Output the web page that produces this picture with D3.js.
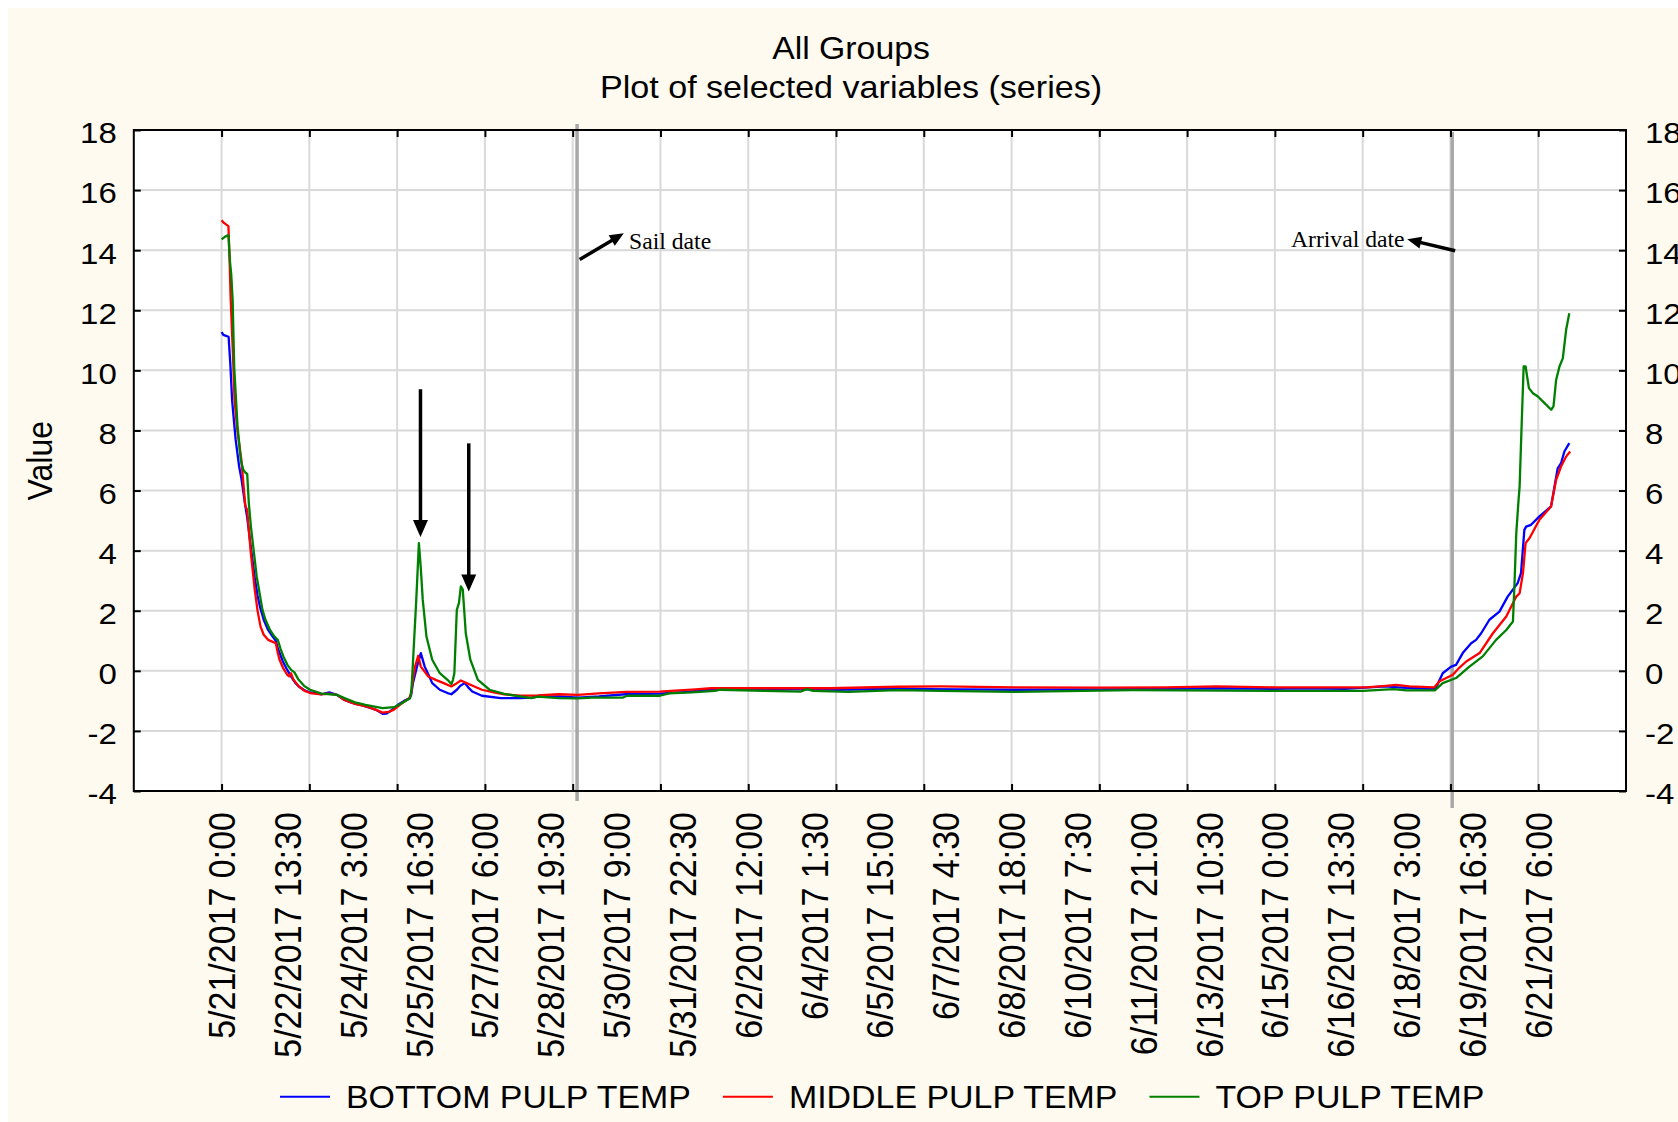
<!DOCTYPE html>
<html>
<head>
<meta charset="utf-8">
<script src="https://d3js.org/d3.v7.min.js"></script>
<style>
  body { margin: 0; background: #fff; }
  svg { display: block; }
  text { font-family: 'Liberation Sans', Arial, sans-serif; fill: #000; }
</style>
</head>
<body>
<svg width="1678" height="1122"></svg>
<script>

// readings are [hours after 5/21/2017 0:00, temperature]

var startLabel = '5/21/2017 0:00';

var seriesNames = ['BOTTOM PULP TEMP', 'MIDDLE PULP TEMP', 'TOP PULP TEMP'];
var seriesColors = ['#0000ff', '#ff0000', '#008000'];

var bottomPulp = [
    [0, 11.27], [1, 11.18], [2.5, 11.15], [4, 11.12], [5, 10.2], [6, 9.0], [8, 7.7], [10, 6.8],
    [11.3, 6.4], [13.5, 5.5], [14.6, 5.1], [16.7, 4.1], [18.9, 3.1], [20.5, 2.5], [22, 2.1], [24, 1.7],
    [26.5, 1.36], [29, 1.15], [30.9, 1.0], [32, 0.75], [33, 0.6], [35, 0.3], [37.4, 0.03], [39.6, -0.19],
    [42, -0.4], [44, -0.52], [47, -0.64], [50.4, -0.72], [57, -0.78], [61.3, -0.72], [63.5, -0.76],
    [65.7, -0.8], [70, -0.97], [74, -1.06], [78.7, -1.13], [85.2, -1.24], [88, -1.3], [91.7, -1.43],
    [94, -1.42], [96, -1.35], [100.4, -1.13], [104, -1.0], [107, -0.91], [108, -0.8], [109, -0.41],
    [111.3, 0.14], [113.5, 0.59], [115.7, 0.14], [118, -0.15], [120, -0.41], [124.3, -0.63],
    [128.7, -0.74], [130.9, -0.78], [134, -0.63], [136, -0.5], [138.5, -0.41], [140.5, -0.55],
    [142.8, -0.69], [148.3, -0.83], [159, -0.91], [170, -0.91], [176.5, -0.89], [180, -0.86],
    [192, -0.85], [203, -0.89], [215, -0.85], [230, -0.78], [250, -0.76], [265, -0.7], [279, -0.63],
    [310, -0.63], [334, -0.61], [350, -0.63], [385, -0.6], [420, -0.62], [452, -0.63], [500, -0.62],
    [540, -0.6], [567, -0.58], [600, -0.6], [614, -0.58], [640, -0.6], [663, -0.52], [670, -0.55],
    [680, -0.58], [691.5, -0.6], [695.6, -0.08], [700.4, 0.14], [703.2, 0.2], [707, 0.59],
    [711.8, 0.92], [714.6, 1.03], [717.5, 1.25], [722.2, 1.7], [727.9, 1.97], [732.6, 2.47],
    [738.3, 2.92], [740.2, 3.25], [742.1, 4.69], [743.1, 4.8], [745.9, 4.86], [750.7, 5.14],
    [757.3, 5.47], [761.1, 6.74], [763, 6.91], [764.9, 7.3], [767.7, 7.58]
];

var middlePulp = [
    [0, 15.0], [1.5, 14.9], [3.9, 14.8], [4.5, 13.8], [5.2, 12.35], [6.5, 10.5], [7.4, 9.0], [9, 8.0],
    [11.3, 7.0], [13.5, 5.5], [14.2, 5.4], [14.6, 5.35], [15.5, 4.7], [16.7, 3.9], [18.9, 2.7],
    [20.5, 2.0], [22.2, 1.47], [24, 1.2], [26.5, 1.03], [28.5, 0.98], [30.9, 0.92], [32, 0.6],
    [33, 0.37], [35, 0.1], [37.4, -0.13], [38.5, -0.18], [39.5, -0.08], [41, -0.3], [44, -0.52],
    [47, -0.66], [50.4, -0.74], [57, -0.78], [61.3, -0.76], [65.7, -0.8], [70, -0.97], [76, -1.1],
    [83, -1.19], [88, -1.3], [91.7, -1.39], [95, -1.37], [98, -1.3], [102.6, -1.08], [107, -0.91],
    [108, -0.75], [109, -0.3], [110.2, 0.14], [112, 0.5], [113.5, 0.14], [117.8, -0.19], [122, -0.3],
    [126.5, -0.41], [130.9, -0.52], [133, -0.45], [136.3, -0.32], [139.6, -0.41], [144, -0.52],
    [148.3, -0.63], [155, -0.72], [161, -0.78], [170, -0.83], [180, -0.82], [192, -0.78], [203, -0.8],
    [215, -0.75], [230.6, -0.7], [249.6, -0.69], [256, -0.67], [270, -0.62], [278.8, -0.58],
    [309, -0.58], [347, -0.58], [385, -0.53], [410, -0.52], [452, -0.55], [500, -0.56], [538, -0.55],
    [566.6, -0.52], [600, -0.55], [652, -0.55], [663.3, -0.5], [669, -0.47], [676.6, -0.52],
    [690.8, -0.55], [693.8, -0.35], [701.4, -0.13], [705, 0.1], [709, 0.31], [716.6, 0.59],
    [724.2, 1.25], [731.8, 1.81], [737.5, 2.47], [739.4, 2.58], [741.3, 3.25], [742.8, 4.25],
    [745, 4.41], [750.7, 5.03], [757.3, 5.47], [760.2, 6.36], [763, 6.8], [765.9, 7.13], [768.2, 7.3]
];

var topPulp = [
    [0, 14.36], [2, 14.45], [3.9, 14.5], [4.8, 13.6], [5.5, 13.2], [6.3, 12.35], [7.2, 10.1],
    [9.1, 8.13], [11, 7.0], [12.4, 6.69], [13.5, 6.6], [14.6, 6.55], [15.5, 5.6], [16.7, 4.8],
    [20, 3.14], [23.3, 2.03], [25, 1.7], [27.6, 1.36], [30, 1.15], [32, 1.03], [33.5, 0.75],
    [35.2, 0.48], [37.5, 0.2], [39.6, 0.03], [41.5, -0.05], [43.9, -0.3], [47, -0.5], [50.4, -0.63],
    [57, -0.76], [62, -0.78], [65.7, -0.8], [70, -0.91], [76, -1.05], [82, -1.13], [91.7, -1.24],
    [98.3, -1.21], [102.6, -1.08], [107.4, -0.91], [108.2, -0.6], [109.1, 0.37], [110.9, 2.36],
    [112.4, 4.25], [113.5, 3.4], [114.6, 2.36], [116.7, 1.14], [120, 0.37], [124.3, -0.08],
    [128.7, -0.3], [130.9, -0.44], [131.8, -0.3], [132.6, -0.08], [134, 2.03], [135.2, 2.25],
    [136.3, 2.81], [137.4, 2.7], [139.1, 1.25], [141.7, 0.37], [146, -0.3], [152.6, -0.63],
    [161, -0.77], [170, -0.85], [176.5, -0.91], [180, -0.86], [192, -0.91], [203, -0.92],
    [211, -0.89], [228.7, -0.89], [231, -0.83], [249.6, -0.83], [255, -0.75], [267.7, -0.72],
    [281, -0.67], [284, -0.63], [309, -0.67], [330, -0.69], [333.4, -0.61], [337, -0.67],
    [357, -0.7], [385, -0.64], [410, -0.67], [452, -0.7], [519, -0.64], [600, -0.67], [650, -0.67],
    [667.5, -0.61], [675, -0.65], [691.1, -0.65], [695.6, -0.41], [703.2, -0.24], [710.8, 0.14],
    [718.4, 0.48], [726, 1.03], [731.8, 1.36], [735.6, 1.64], [736.5, 2.92], [737.5, 4.58],
    [738.8, 5.69], [739.4, 6.13], [740.4, 7.91], [741.7, 10.13], [742.8, 10.13], [744.7, 9.41],
    [747, 9.24], [749.8, 9.13], [753.6, 8.91], [757.4, 8.69], [758.7, 8.8], [760.2, 9.68],
    [762.1, 10.13], [764, 10.4], [765.9, 11.35], [767.7, 11.9]
];

var xTickLabels = [
    '5/21/2017 0:00', '5/22/2017 13:30', '5/24/2017 3:00', '5/25/2017 16:30', '5/27/2017 6:00',
    '5/28/2017 19:30', '5/30/2017 9:00', '5/31/2017 22:30', '6/2/2017 12:00', '6/4/2017 1:30',
    '6/5/2017 15:00', '6/7/2017 4:30', '6/8/2017 18:00', '6/10/2017 7:30', '6/11/2017 21:00',
    '6/13/2017 10:30', '6/15/2017 0:00', '6/16/2017 13:30', '6/18/2017 3:00', '6/19/2017 16:30',
    '6/21/2017 6:00'
];

var yTicks = [-4, -2, 0, 2, 4, 6, 8, 10, 12, 14, 16, 18];

// shipping events (hours) and the hand drawn arrows (hours, value)
var events = [
    { label: 'Sail date', hour: 202.5, from: [204, 13.69], to: [229.1, 14.56], text: [232.1, 14.03], anchor: 'start' },
    { label: 'Arrival date', hour: 701, from: [702.7, 13.98], to: [675.4, 14.36], text: [673.9, 14.12], anchor: 'end' }
];
var spikeArrows = [
    { from: [113.3, 9.37], to: [113.3, 4.45] },
    { from: [140.8, 7.57], to: [140.8, 2.64] }
];

var svg = d3.select('svg');

var parse = d3.timeParse('%m/%d/%Y %H:%M');
var start = parse(startLabel);
function at(h) { return new Date(+start + h * 36e5); }

// plot box
var pL = 133.8, pR = 1626, pT = 130, pB = 791;

var x = d3.scaleTime()
    .domain([at(-50), at(800)])
    .range([pL, pR]);

var y = d3.scaleLinear()
    .domain([-4, 18])
    .range([pB, pT]);

// background panel and white plot area
svg.append('rect').attr('x', 8).attr('y', 8).attr('width', 1670).attr('height', 1114).attr('fill', '#fefaef');
svg.append('rect').attr('x', pL).attr('y', pT).attr('width', pR - pL).attr('height', pB - pT).attr('fill', '#fff');

// grid every 50 hours and every 2 degrees
var gridDates = d3.range(0, 751, 50).map(at);

svg.append('g')
    .selectAll('line')
    .data(gridDates)
    .enter()
    .append('line')
    .attr('x1', function (d) { return x(d); })
    .attr('x2', function (d) { return x(d); })
    .attr('y1', pT)
    .attr('y2', pB)
    .attr('stroke', '#d9d9d9')
    .attr('stroke-width', 2);

svg.append('g')
    .selectAll('line')
    .data(yTicks.slice(1, -1))
    .enter()
    .append('line')
    .attr('x1', pL)
    .attr('x2', pR)
    .attr('y1', function (d) { return y(d); })
    .attr('y2', function (d) { return y(d); })
    .attr('stroke', '#d9d9d9')
    .attr('stroke-width', 2);

// sail and arrival lines
svg.append('g')
    .selectAll('line')
    .data(events)
    .enter()
    .append('line')
    .attr('x1', function (d) { return x(at(d.hour)); })
    .attr('x2', function (d) { return x(at(d.hour)); })
    .attr('y1', function (d, i) { return i == 0 ? pT - 6 : pT + 2; })
    .attr('y2', function (d, i) { return i == 0 ? pB + 10 : pB + 17; })
    .attr('stroke', '#a8a8a8')
    .attr('stroke-width', 3.5);

// the three series
var line = d3.line()
    .x(function (d) { return x(at(d[0])); })
    .y(function (d) { return y(d[1]); });

[bottomPulp, middlePulp, topPulp].forEach(function (s, i) {
    svg.append('path')
        .datum(s)
        .attr('fill', 'none')
        .attr('stroke', seriesColors[i])
        .attr('stroke-width', 2.3)
        .attr('stroke-linejoin', 'round')
        .attr('d', line);
});

// frame and inward ticks
svg.append('rect')
    .attr('x', pL).attr('y', pT)
    .attr('width', pR - pL).attr('height', pB - pT)
    .attr('fill', 'none').attr('stroke', '#000').attr('stroke-width', 2);

function tidy(g, fs) {
    g.select('.domain').remove();
    g.selectAll('.tick line').attr('stroke-width', 2);
    g.selectAll('text').attr('font-size', fs).attr('font-family', null);
}

svg.append('g')
    .attr('transform', 'translate(' + pL + ',0)')
    .call(d3.axisLeft(y).tickValues(yTicks).tickSize(-7).tickSizeOuter(0).tickPadding(15.5)
        .tickFormat(function (d) { return String(d); }))
    .call(function (g) {
        tidy(g, 30);
        g.selectAll('text').attr('dy', '0.43em').attr('transform', 'scale(1.1,1)');
    });

svg.append('g')
    .attr('transform', 'translate(' + pR + ',0)')
    .call(d3.axisRight(y).tickValues(yTicks).tickSize(-7).tickSizeOuter(0).tickPadding(17.3)
        .tickFormat(function (d) { return String(d); }))
    .call(function (g) {
        tidy(g, 30);
        g.selectAll('text').attr('dy', '0.43em').attr('transform', 'scale(1.1,1)');
    });

svg.append('g')
    .attr('transform', 'translate(0,' + pT + ')')
    .call(d3.axisTop(x).tickValues(gridDates).tickSize(-7).tickSizeOuter(0).tickFormat(''))
    .call(function (g) { tidy(g, 10); });

svg.append('g')
    .attr('transform', 'translate(0,' + pB + ')')
    .call(d3.axisBottom(x).tickValues(gridDates).tickSize(-7).tickSizeOuter(0).tickFormat(''))
    .call(function (g) { tidy(g, 10); });

// rotated date labels
svg.append('g')
    .selectAll('text')
    .data(xTickLabels)
    .enter()
    .append('text')
    .attr('transform', function (d) { return 'translate(' + x(parse(d)) + ',812) scale(1.1,1) rotate(-90)'; })
    .attr('text-anchor', 'end')
    .attr('dy', '0.36em')
    .attr('font-size', 34)
    .text(function (d) { return d; });

// titles
svg.append('text')
    .attr('transform', 'translate(851,58.5) scale(1.09,1)')
    .attr('text-anchor', 'middle')
    .attr('font-size', 31)
    .text('All Groups');
svg.append('text')
    .attr('transform', 'translate(851,97.5) scale(1.1,1)')
    .attr('text-anchor', 'middle')
    .attr('font-size', 31)
    .text('Plot of selected variables (series)');

svg.append('text')
    .attr('transform', 'translate(51.7,460.7) scale(1.1,1) rotate(-90)')
    .attr('text-anchor', 'middle')
    .attr('font-size', 32)
    .text('Value');

// arrows
function arrow(g, x1, y1, x2, y2, w, hl, hw) {
    var dx = x2 - x1, dy = y2 - y1, len = Math.sqrt(dx * dx + dy * dy);
    var ux = dx / len, uy = dy / len;
    var bx = x2 - ux * hl, by = y2 - uy * hl;
    g.append('line')
        .attr('x1', x1).attr('y1', y1)
        .attr('x2', x2 - ux * (hl - 2)).attr('y2', y2 - uy * (hl - 2))
        .attr('stroke', '#000').attr('stroke-width', w);
    g.append('path')
        .attr('d', 'M' + x2 + ',' + y2 +
            'L' + (bx - uy * hw / 2) + ',' + (by + ux * hw / 2) +
            'L' + (bx + uy * hw / 2) + ',' + (by - ux * hw / 2) + 'Z')
        .attr('fill', '#000');
}

var ann = svg.append('g');
spikeArrows.forEach(function (a) {
    arrow(ann, x(at(a.from[0])), y(a.from[1]), x(at(a.to[0])), y(a.to[1]), 3.5, 17, 15);
});
events.forEach(function (e) {
    arrow(ann, x(at(e.from[0])), y(e.from[1]), x(at(e.to[0])), y(e.to[1]), 3.5, 14, 12);
    ann.append('text')
        .attr('transform', 'translate(' + x(at(e.text[0])) + ',' + y(e.text[1]) + ') scale(1.03,1)')
        .attr('text-anchor', e.anchor)
        .attr('font-size', 23)
        .style('font-family', "'Liberation Serif', 'Times New Roman', serif")
        .text(e.label);
});

// legend, laid out in a row under the labels
var legend = svg.append('g').attr('transform', 'translate(280,0)');
var lx = 0;
seriesNames.forEach(function (name, i) {
    legend.append('line')
        .attr('x1', lx).attr('x2', lx + 50)
        .attr('y1', 1096.7).attr('y2', 1096.7)
        .attr('stroke', seriesColors[i]).attr('stroke-width', 2);
    var t = legend.append('text')
        .attr('transform', 'translate(' + (lx + 66) + ',1108.3) scale(1.06,1)')
        .attr('font-size', 32)
        .text(name);
    lx += 66 + t.node().getComputedTextLength() * 1.06 + 32;
});

</script>
</body>
</html>
